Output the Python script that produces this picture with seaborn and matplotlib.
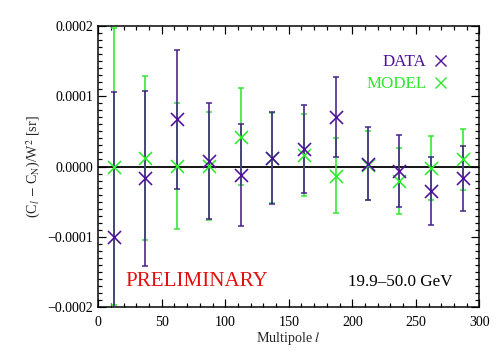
import numpy as np
import pandas as pd
import matplotlib
matplotlib.use("Agg")
import matplotlib.pyplot as plt
import seaborn as sns
from matplotlib.ticker import MultipleLocator, FuncFormatter
from matplotlib.lines import Line2D

# multipole bin centres
ell = [12, 37, 62, 87, 112, 137, 162, 187, 212, 237, 262, 287]

# data and model cross-power, in sr
data_val = [-1.00e-4, -0.17e-4, 0.67e-4, 0.08e-4, -0.12e-4, 0.12e-4,
            0.25e-4, 0.71e-4, 0.04e-4, -0.06e-4, -0.35e-4, -0.17e-4]
data_err = [2.06e-4, 1.24e-4, 0.99e-4, 0.83e-4, 0.72e-4, 0.66e-4,
            0.62e-4, 0.57e-4, 0.52e-4, 0.51e-4, 0.48e-4, 0.46e-4]
model_val = [0.00e-4, 0.12e-4, 0.01e-4, 0.01e-4, 0.42e-4, 0.12e-4,
             0.16e-4, -0.13e-4, 0.02e-4, -0.21e-4, -0.02e-4, 0.10e-4]
model_err = [1.97e-4, 1.17e-4, 0.90e-4, 0.77e-4, 0.69e-4, 0.64e-4,
             0.58e-4, 0.53e-4, 0.49e-4, 0.47e-4, 0.46e-4, 0.44e-4]

purple = "#4e0f9c"
purple_bar = "#45208a"
green = "#2ee82e"

df = pd.DataFrame({"ell": ell, "data": data_val, "data_err": data_err,
                   "model": model_val, "model_err": model_err})

sns.set_theme(style="ticks")
plt.rcParams["font.family"] = ["Liberation Serif", "DejaVu Serif"]
plt.rcParams["mathtext.fontset"] = "stix"

fig = plt.figure(figsize=(7, 5), dpi=72)
ax = fig.add_axes([0.195, 0.147, 0.756, 0.781])

ax.axhline(0, color="black", linewidth=1.8, zorder=1)

# model first, data on top
ax.errorbar(df["ell"], df["model"], yerr=df["model_err"], fmt="none",
            ecolor=green, elinewidth=1.6, capsize=3, capthick=1.5, zorder=2)
ax.errorbar(df["ell"], df["data"], yerr=df["data_err"], fmt="none",
            ecolor=purple_bar, elinewidth=1.6, capsize=3, capthick=1.5, zorder=3)
sns.scatterplot(data=df, x="ell", y="model", marker="x", s=170, color=green,
                linewidth=1.6, ax=ax, zorder=4)
sns.scatterplot(data=df, x="ell", y="data", marker="x", s=170, color=purple,
                linewidth=1.6, ax=ax, zorder=5)

ax.set_xlim(0, 300)
ax.set_ylim(-0.0002, 0.0002)
ax.xaxis.set_major_locator(MultipleLocator(50))
ax.xaxis.set_minor_locator(MultipleLocator(10))
ax.yaxis.set_major_locator(MultipleLocator(0.0001))
ax.yaxis.set_minor_locator(MultipleLocator(0.00001))
ax.yaxis.set_major_formatter(FuncFormatter(
    lambda v, p: f"{v:.4f}".replace("-", "\u2212") if abs(v) > 1e-12 else "0.0000"))

ax.tick_params(which="both", direction="in", top=True, right=True,
               colors="black", labelsize=14, width=1.2)
ax.tick_params(which="major", length=8)
ax.tick_params(which="minor", length=4)
ax.tick_params(axis="x", which="major", pad=9)
ax.tick_params(axis="y", which="major", pad=5)
for s in ax.spines.values():
    s.set_linewidth(1.5)
    s.set_color("black")

ax.set_xlabel(r"Multipole $l$", fontsize=14, labelpad=1)
ax.set_ylabel(r"(C$_l$ $-$ C$_\mathrm{N}$)/W$^2$ [sr]", fontsize=14, labelpad=4)

handles = [Line2D([], [], linestyle="none", marker="x", markersize=11,
                  markeredgewidth=1.4, color=purple, label="DATA"),
           Line2D([], [], linestyle="none", marker="x", markersize=11,
                  markeredgewidth=1.4, color=green, label="MODEL")]
ax.legend(handles=handles, loc="upper right", bbox_to_anchor=(0.96, 0.955),
          markerfirst=False, frameon=False, fontsize=17, labelcolor=[purple, green],
          handletextpad=0.3, handlelength=1.0, labelspacing=0.35)

ax.text(0.07, 0.09, "PRELIMINARY", transform=ax.transAxes, color="#e01010",
        fontsize=21, va="center", ha="left")
ax.text(0.93, 0.09, "19.9\u201350.0 GeV", transform=ax.transAxes, color="black",
        fontsize=17, va="center", ha="right")

fig.savefig("out.png", dpi=72)
